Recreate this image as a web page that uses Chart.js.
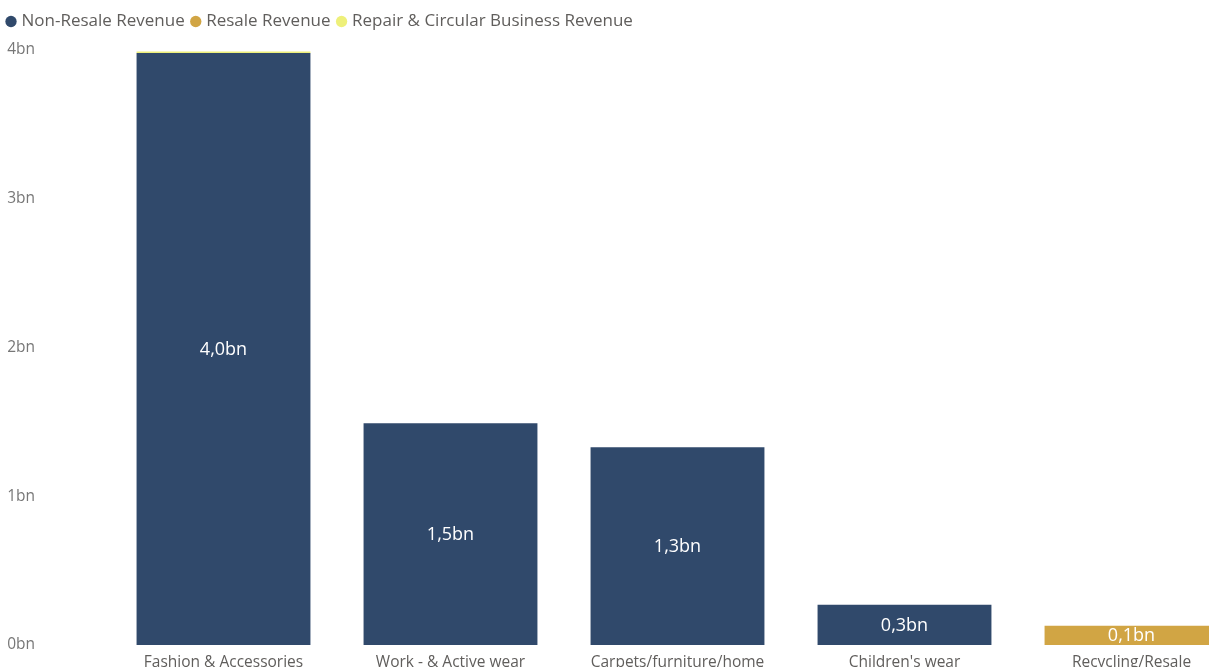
<!DOCTYPE html>
<html>
<head>
<meta charset="utf-8">
<script src="https://cdn.jsdelivr.net/npm/chart.js@4.4.1/dist/chart.umd.min.js"></script>
<style>
  html, body { margin: 0; padding: 0; background: #fff; overflow: hidden; }
  #wrap { position: relative; width: 1245px; height: 700px; }
</style>
</head>
<body>
<div id="wrap"><canvas id="revenueChart"></canvas></div>
<script>
// revenue per category, in billions
const categories = ['Fashion & Accessories', 'Work - & Active wear', 'Carpets/furniture/home', "Children's wear", 'Recycling/Resale'];
const nonResale = [3.98, 1.49, 1.33, 0.27, 0];
const resale = [0, 0, 0, 0, 0.13];
const repairCircular = [0.01, 0, 0, 0, 0];
const yTicks = [0, 1, 2, 3, 4];

const FONT = "'Open Sans', 'Noto Sans', sans-serif";

function fmtBn(v) {
  return v.toFixed(1).replace('.', ',') + 'bn';
}

// white value labels centred in each segment that is tall enough
const segmentLabels = {
  id: 'segmentLabels',
  afterDatasetsDraw(chart) {
    const ctx = chart.ctx;
    ctx.save();
    ctx.font = '18px ' + FONT;
    ctx.fillStyle = '#ffffff';
    ctx.textAlign = 'center';
    ctx.textBaseline = 'middle';
    chart.data.datasets.forEach((ds, i) => {
      chart.getDatasetMeta(i).data.forEach((bar, j) => {
        const v = ds.data[j];
        if (v < 0.05) return;
        ctx.fillText(fmtBn(v), bar.x, (bar.y + bar.base) / 2 + 1);
      });
    });
    ctx.restore();
  }
};

// extra room under the legend
const legendGap = {
  id: 'legendGap',
  beforeInit(chart) {
    const fit = chart.legend.fit;
    chart.legend.fit = function () {
      fit.call(this);
      this.height += 10;
    };
  }
};

let ctx = document.getElementById('revenueChart').getContext('2d');
let revenueChart = new Chart(ctx, {
  type: 'bar',
  data: {
    labels: categories,
    datasets: [{
      label: 'Non-Resale Revenue',
      data: nonResale,
      backgroundColor: '#30496B',
    }, {
      label: 'Resale Revenue',
      data: resale,
      backgroundColor: '#D1A544',
    }, {
      label: 'Repair & Circular Business Revenue',
      data: repairCircular,
      backgroundColor: '#EEF07A',
    }]
  },
  options: {
    responsive: true,
    maintainAspectRatio: false,
    animation: false,
    layout: {
      padding: { left: 0, top: 4, right: 0, bottom: 0 }
    },
    datasets: {
      bar: {
        categoryPercentage: 1,
        barPercentage: 0.766,
        borderWidth: 0,
      }
    },
    plugins: {
      legend: {
        display: true,
        position: 'top',
        align: 'start',
        labels: {
          usePointStyle: true,
          pointStyle: 'circle',
          boxWidth: 4,
          boxHeight: 8,
          padding: 9,
          color: '#605E5C',
          font: { family: FONT, size: 17 }
        }
      },
      tooltip: { enabled: false }
    },
    scales: {
      x: {
        stacked: true,
        grid: { display: false },
        border: { display: false },
        ticks: {
          color: '#605E5C',
          padding: 0,
          maxRotation: 0,
          font: { family: FONT, size: 15.5 }
        },
        afterFit(scale) { scale.height = 55; }
      },
      y: {
        stacked: true,
        min: 0,
        max: 4,
        grid: { display: false },
        border: { display: false },
        afterBuildTicks(scale) {
          scale.ticks = yTicks.map(v => ({ value: v }));
        },
        ticks: {
          color: '#777777',
          padding: 67,
          font: { family: FONT, size: 15.5 },
          callback: v => v + 'bn'
        },
        afterFit(scale) {
          scale.width = 110;
          scale.paddingTop = 10;
          scale.paddingBottom = 10;
        }
      }
    }
  },
  plugins: [segmentLabels, legendGap]
});
</script>
</body>
</html>
